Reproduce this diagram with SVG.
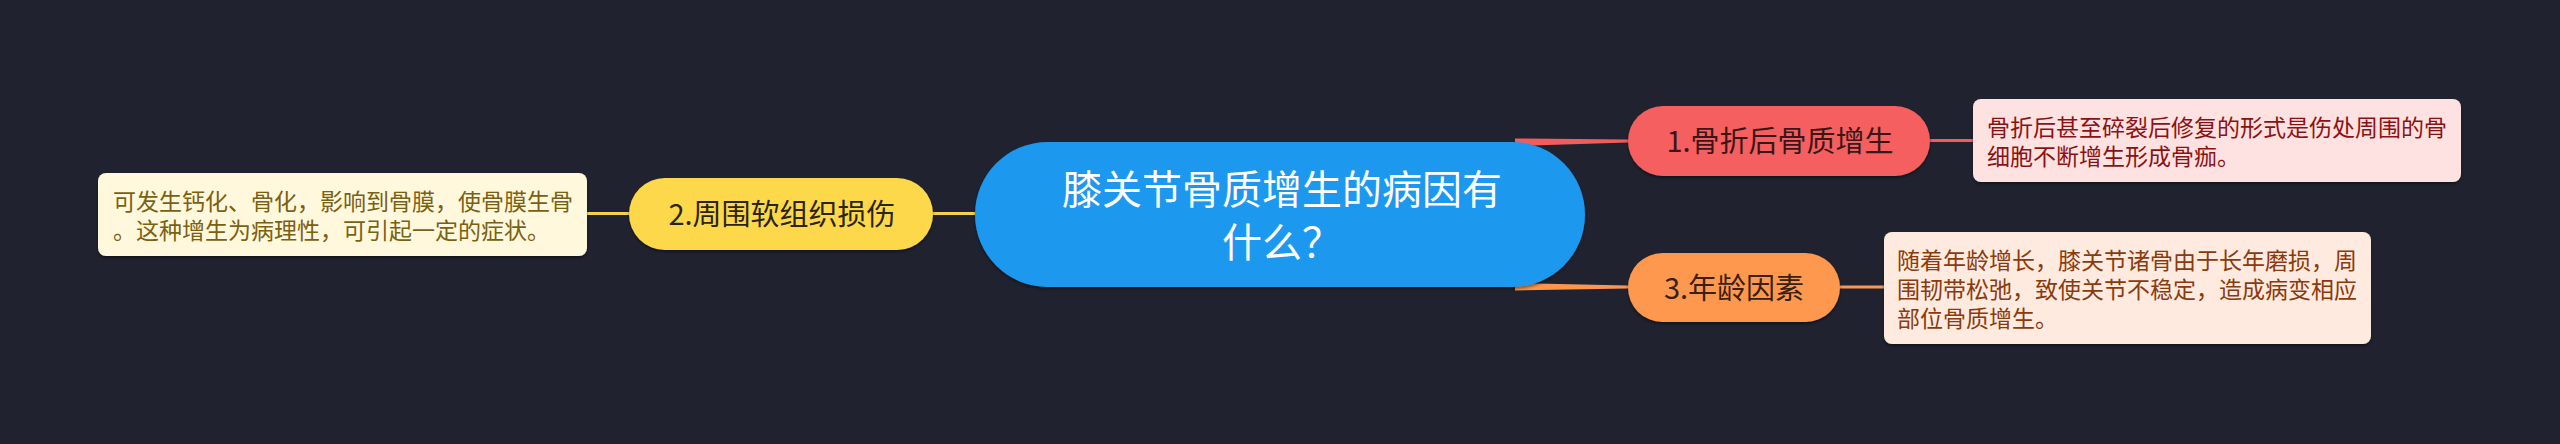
<svg xmlns="http://www.w3.org/2000/svg" width="2560" height="444" viewBox="0 0 2560 444">
<defs>
<style>
text{font-family:"Noto Sans CJK SC","Noto Sans",sans-serif;}
.c{text-anchor:middle;}
.d{font-size:23px;}
.n{font-size:29px;}
</style>
<filter id="sh" x="-10%" y="-20%" width="120%" height="150%">
<feDropShadow dx="0" dy="2" stdDeviation="1.5" flood-color="#000" flood-opacity="0.45"/>
</filter>
</defs>
<rect width="2560" height="444" fill="#20232f"/>
<g id="connectors">
<polygon points="1515,138.5 1628,139.5 1628,142.5 1515,146" fill="#f25c5c"/>
<polygon points="1515,283 1628,285.5 1628,288.5 1515,290.5" fill="#fb9550"/>
<line x1="933" y1="213.5" x2="990" y2="213.5" stroke="#f7d04a" stroke-width="3"/>
<line x1="1930" y1="140.5" x2="1975" y2="140.5" stroke="#f25c5c" stroke-width="3"/>
<line x1="1840" y1="287" x2="1886" y2="287" stroke="#fb9550" stroke-width="3"/>
<line x1="585" y1="213.5" x2="630" y2="213.5" stroke="#f7d04a" stroke-width="3"/>
</g>
<g id="root">
<rect x="975" y="142" width="610" height="145" rx="72.5" fill="#1b98ee" filter="url(#sh)"/>
<text class="c" x="1282" y="204" font-size="40" fill="#ffffff">膝关节骨质增生的病因有</text>
<text class="c" x="1282" y="257" font-size="40" fill="#ffffff">什么？</text>
</g>
<g id="node1">
<rect x="1628" y="106" width="302" height="70" rx="35" fill="#f65f5e" filter="url(#sh)"/>
<text class="c n" x="1780" y="152" fill="#3a1616">1.骨折后骨质增生</text>
</g>
<g id="detail1">
<rect x="1973" y="99" width="488" height="83" rx="8" fill="#fee1e1" filter="url(#sh)"/>
<text class="d" x="1987" y="136" fill="#8b1212">骨折后甚至碎裂后修复的形式是伤处周围的骨</text>
<text class="d" x="1987" y="165" fill="#8b1212">细胞不断增生形成骨痂。</text>
</g>
<g id="node3">
<rect x="1628" y="253" width="212" height="69" rx="34.5" fill="#fe984f" filter="url(#sh)"/>
<text class="c n" x="1734" y="298.5" fill="#3a2010">3.年龄因素</text>
</g>
<g id="detail3">
<rect x="1884" y="232" width="487" height="112" rx="8" fill="#feeadf" filter="url(#sh)"/>
<text class="d" x="1897" y="269" fill="#8a3a0c">随着年龄增长，膝关节诸骨由于长年磨损，周</text>
<text class="d" x="1897" y="298" fill="#8a3a0c">围韧带松弛，致使关节不稳定，造成病变相应</text>
<text class="d" x="1897" y="327" fill="#8a3a0c">部位骨质增生。</text>
</g>
<g id="node2">
<rect x="629" y="178" width="304" height="72" rx="36" fill="#fdd84b" filter="url(#sh)"/>
<text class="c n" x="782" y="225" fill="#2a2410">2.周围软组织损伤</text>
</g>
<g id="detail2">
<rect x="98" y="173" width="489" height="83" rx="8" fill="#fff8dc" filter="url(#sh)"/>
<text class="d" x="113" y="209.5" fill="#7a6012">可发生钙化、骨化，影响到骨膜，使骨膜生骨</text>
<text class="d" x="113" y="238.5" fill="#7a6012">。这种增生为病理性，可引起一定的症状。</text>
</g>
</svg>
